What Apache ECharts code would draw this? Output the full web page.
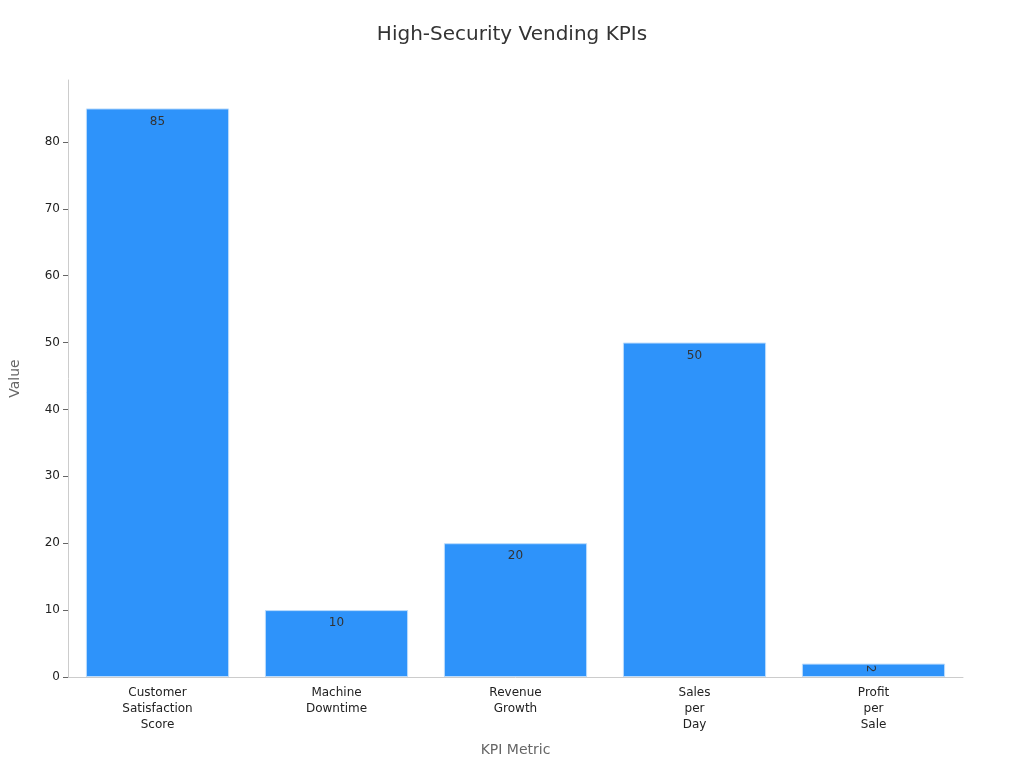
<!DOCTYPE html>
<html>
<head>
<meta charset="utf-8">
<script src="https://cdn.jsdelivr.net/npm/echarts@6/dist/echarts.min.js"></script>
<style>html,body{margin:0;padding:0;background:#fff}#main{width:1024px;height:768px}</style>
</head>
<body>
<div id="main"></div>
<script>
// chart data
var categories = ['Customer\nSatisfaction\nScore', 'Machine\nDowntime', 'Revenue\nGrowth', 'Sales\nper\nDay', 'Profit\nper\nSale'];
var values = [85, 10, 20, 50, 2];

var myChart = echarts.init(document.getElementById('main'));
myChart.setOption({
  animation: false,
  textStyle: { fontFamily: 'DejaVu Sans' },
  title: {
    text: 'High-Security Vending KPIs',
    left: 'center',
    top: 20,
    textStyle: { fontSize: 20, fontWeight: 'normal', color: '#333' }
  },
  grid: { left: 60, right: 61, top: 80, bottom: 91 },
  xAxis: {
    type: 'category',
    data: categories,
    name: 'KPI Metric',
    nameLocation: 'middle',
    nameGap: 66,
    nameTextStyle: { color: '#666', fontSize: 14 },
    axisLine: { lineStyle: { color: '#ccc' } },
    axisTick: { show: false },
    axisLabel: { color: '#222', fontSize: 12, lineHeight: 16, interval: 0 }
  },
  yAxis: {
    type: 'value',
    min: 0,
    max: 89.25,
    interval: 10,
    name: 'Value',
    nameLocation: 'middle',
    nameGap: 46,
    nameTextStyle: { color: '#666', fontSize: 14 },
    axisLine: { show: true, lineStyle: { color: '#ccc' } },
    axisTick: { show: true, lineStyle: { color: '#666' } },
    axisLabel: { color: '#222', fontSize: 12, showMaxLabel: false },
    splitLine: { show: false }
  },
  series: [{
    type: 'bar',
    barCategoryGap: '20%',
    data: values.map(function (v, i) {
      var item = { value: v };
      if (i === values.length - 1) item.label = { rotate: -90, offset: [0, -3] };
      return item;
    }),
    itemStyle: { color: '#2E93FA', borderColor: '#bcdcfc', borderWidth: 1 },
    label: { show: true, position: 'insideTop', color: '#333', fontSize: 12, offset: [0, 2] }
  }]
});
</script>
</body>
</html>
